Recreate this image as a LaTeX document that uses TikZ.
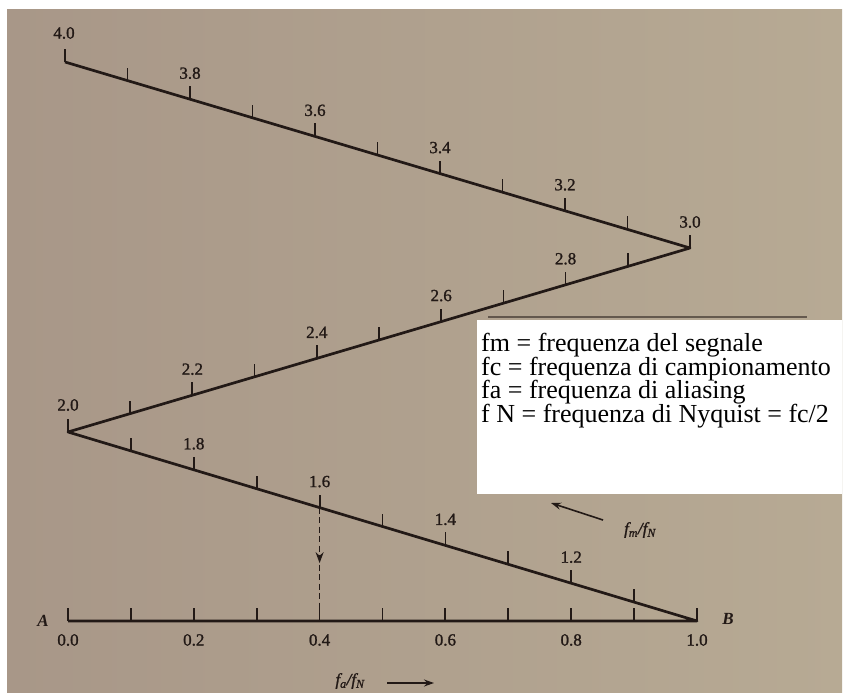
\documentclass[tikz,border=0pt]{standalone}
\usepackage{fontspec}
\setmainfont{Liberation Serif}
\newfontfamily\numfont[FakeBold=1.3]{Liberation Serif}
\usetikzlibrary{arrows.meta,decorations.markings,calc}
\newcommand\mytightlines{\lineskiplimit=-30pt\relax\lineskip=0pt\relax}

\definecolor{paperL}{RGB}{168,151,136}
\definecolor{paperR}{RGB}{183,170,148}
\definecolor{ink}{RGB}{34,25,22}

\begin{document}
\begin{tikzpicture}[x=1pt,y=-1pt,
  mainline/.style={draw=ink,line width=2.7pt,line join=round},
  tickmark/.style={draw=ink,line width=1.8pt},
  numlab/.style={text=ink,inner sep=0pt,font=\numfont\fontsize{17}{17}\selectfont},
  axlab/.style={text=ink,inner sep=0pt,font=\numfont\fontsize{17}{17}\selectfont\itshape},
  legend/.style={text=black,inner sep=0pt,anchor=north west,align=left,
    font=\fontsize{26}{23.5}\selectfont\mytightlines},
  pointer/.style={draw=ink,line width=1.6pt,-{Stealth[length=10pt,width=7pt]}}
]
\useasboundingbox (0,0) rectangle (847,693);
\fill[white] (0,0) rectangle (847,693);
\shade[left color=paperL,right color=paperR] (7,10) rectangle (842,693);

% key points
\coordinate (a0) at (68,621);
\coordinate (p10) at (697,621);
\coordinate (p20) at (68,432);
\coordinate (p30) at (690,248);
\coordinate (p40) at (65,62);

% main zig-zag and axis
\draw[mainline] (a0) -- (p10) -- (p20) -- (p30) -- (p40);

% ticks
\foreach \k in {0,...,10} {
  \draw[tickmark] ($(a0)!{\k/10}!(p10)$) -- ++(0,-13);
  \draw[tickmark] ($(p10)!{\k/10}!(p20)$) -- ++(0,-13);
  \draw[tickmark] ($(p20)!{\k/10}!(p30)$) -- ++(0,-13);
  \draw[tickmark] ($(p30)!{\k/10}!(p40)$) -- ++(0,-13);
}

% labels on the sloping scales
\foreach \k/\t in {2/1.2,4/1.4,6/1.6,8/1.8}
  \node[numlab] (l\k a) at ($($(p10)!{\k/10}!(p20)$)+(0,-26)$) {\t};
\foreach \k/\t in {2/2.2,4/2.4,6/2.6,8/2.8}
  \node[numlab] (l\k b) at ($($(p20)!{\k/10}!(p30)$)+(0,-26)$) {\t};
\foreach \k/\t in {2/3.2,4/3.4,6/3.6,8/3.8}
  \node[numlab] (l\k c) at ($($(p30)!{\k/10}!(p40)$)+(0,-26)$) {\t};
\node[numlab] (l20) at ($(p20)+(0,-27)$) {2.0};
\node[numlab] (l30) at ($(p30)+(0,-26)$) {3.0};
\node[numlab] (l40) at ($(p40)+(-1,-29)$) {4.0};

% labels under the base axis
\foreach \k/\t in {0/0.0,2/0.2,4/0.4,6/0.6,8/0.8,10/1.0}
  \node[numlab] (b\k) at ($($(a0)!{\k/10}!(p10)$)+(0,19)$) {\t};
\node[axlab,font=\fontsize{17}{17}\selectfont\itshape\bfseries] (A) at (43,621) {A};
\node[axlab,font=\fontsize{17}{17}\selectfont\itshape\bfseries] (B) at (728,619) {B};

% dashed projection 1.6 -> 0.4
\coordinate (d1) at ($(p10)!0.6!(p20)$);
\coordinate (d2) at ($(a0)!0.4!(p10)$);
\draw[draw=ink,line width=1.5pt,dash pattern=on 6pt off 3.5pt,
  postaction={decorate,decoration={markings,mark=at position 0.49 with {\arrow[ink]{Stealth[length=11pt,width=8pt]}}}}]
  (d1) -- (d2);

% fa/fN label with arrow
\node[axlab] (falab) at (350,681) {f\textsubscript{a}/f\textsubscript{N}};
\coordinate (faS) at (387,683);
\coordinate (faE) at (434,683);
\draw[pointer] (faS) -- (faE);

% faint line above the box
\draw[draw=ink,opacity=0.55,line width=1.6pt] (488,317) -- (807,317);

% white legend box
\fill[white] (477,320) rectangle (842,494);
\node[legend] (lg) at (481,333) {fm = frequenza del segnale\\
fc = frequenza di campionamento\\
fa = frequenza di aliasing\\
f N = frequenza di Nyquist = fc/2};

% fm/fN label with arrow
\node[axlab] (fmlab) at (640,530) {f\textsubscript{m}/f\textsubscript{N}};
\coordinate (fmS) at (603,520);
\coordinate (fmE) at (551,503);
\draw[pointer] (fmS) -- (fmE);
\end{tikzpicture}
\end{document}
